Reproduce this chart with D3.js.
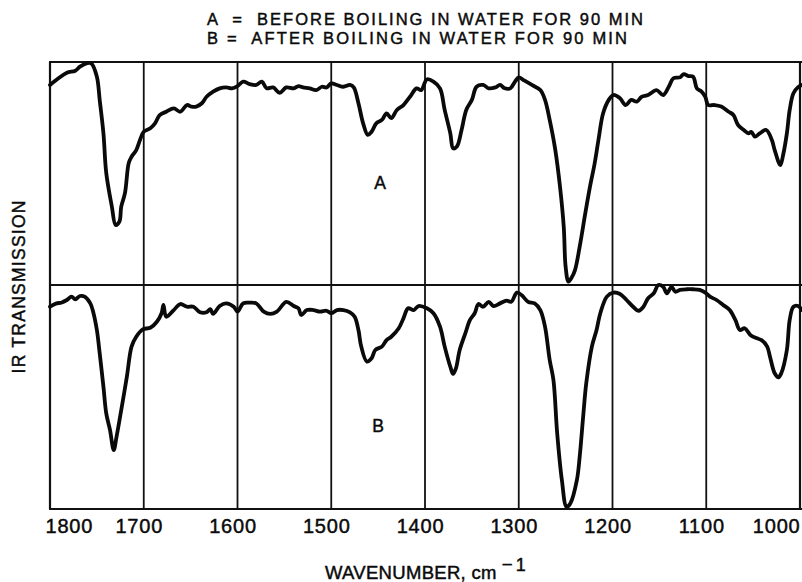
<!DOCTYPE html>
<html>
<head>
<meta charset="utf-8">
<script src="https://cdn.jsdelivr.net/npm/d3@7/dist/d3.min.js"></script>
<style>
  html, body { margin: 0; padding: 0; background: #fff; }
  svg { display: block; font-family: "Liberation Sans", Arial, Helvetica, sans-serif; }
  text { fill: #0a0a0a; stroke: #0a0a0a; stroke-width: 0.45px; }
</style>
</head>
<body>
<svg id="chart" width="802" height="582"></svg>
<script>
// Wavenumber gridlines (cm^-1) and tick labels
const gridWavenumbers = [1800, 1700, 1600, 1500, 1400, 1300, 1200, 1100, 1000];
const tickLabels = ["1800", "1700", "1600", "1500", "1400", "1300", "1200", "1100", "1000"];

// Spectrum A: before boiling — wavenumber (cm^-1) and relative transmission (0–100)
const wavenumberA = [1800,1791,1782,1773,1768,1761,1756,1750,1747,1743,1740,1734,1730,1726,1724,1720,1716,1713,1708,1704,
  1700,1693,1688,1683,1676,1668,1661,1654,1649,1644,1638,1633,1626,1619,1612,1606,1600,1594,1587,1580,
  1574,1569,1562,1555,1548,1540,1535,1530,1523,1516,1510,1505,1500,1494,1487,1480,1476,1471,1466,1461,
  1457,1452,1446,1441,1436,1430,1423,1416,1409,1404,1398,1391,1384,1379,1373,1370,1366,1361,1356,1350,
  1345,1338,1332,1325,1320,1315,1309,1304,1300,1295,1286,1277,1272,1267,1261,1256,1252,1250,1247,1244,
  1240,1235,1229,1224,1219,1215,1210,1204,1199,1192,1186,1180,1174,1169,1162,1153,1146,1140,1135,1128,
  1124,1119,1114,1110,1105,1101,1098,1091,1084,1076,1071,1066,1060,1055,1052,1048,1043,1036,1030,1027,
  1021,1018,1014,1011,1007,1002,998];
const transmissionA = [89.7,92.7,95.2,96.1,97.9,99.4,99.4,93.4,83.0,68.0,50.2,35.1,26.9,28.4,35.1,41.3,54.7,57.5,60.5,65.0,
  68.7,70.3,72.5,76.2,77.7,79.2,77.7,80.7,80.0,80.0,81.5,84.4,86.7,88.2,88.6,88.2,89.2,91.2,90.1,89.7,
  91.2,88.2,88.6,86.2,88.6,88.2,89.2,88.6,88.2,87.4,88.9,88.6,90.4,89.7,88.9,89.7,88.6,81.5,72.5,67.3,
  68.7,72.5,74.0,77.0,74.8,78.5,80.7,84.4,88.2,87.4,92.2,91.2,88.2,78.5,68.0,61.3,62.1,69.5,78.5,83.0,
  88.9,89.7,88.2,88.6,89.7,88.2,88.2,91.2,93.1,91.9,89.7,87.4,83.0,74.0,60.5,44.1,26.1,8.2,1.5,3.0,
  6.7,17.2,32.2,44.1,54.6,65.0,77.0,83.0,85.2,83.7,80.7,83.0,82.2,84.4,85.2,87.4,85.2,88.9,92.7,93.1,
  94.6,93.7,93.4,88.2,86.7,84.4,80.7,80.7,80.0,77.7,76.2,71.7,69.5,68.0,68.7,66.5,68.0,69.5,65.0,60.5,
  53.8,58.3,68.0,78.5,86.0,88.7,89.7];

// Spectrum B: after boiling — wavenumber (cm^-1) and relative transmission (0–100)
const wavenumberB = [1800,1793,1788,1782,1777,1773,1768,1763,1757,1754,1750,1747,1743,1740,1736,1732,1729,1724,1718,1713,
  1708,1701,1693,1686,1681,1679,1676,1668,1661,1654,1647,1640,1633,1629,1626,1619,1612,1604,1600,1594,
  1587,1580,1572,1565,1558,1548,1540,1535,1532,1526,1519,1512,1505,1500,1494,1487,1480,1475,1471,1468,
  1462,1457,1453,1446,1441,1436,1428,1423,1418,1412,1407,1398,1391,1384,1379,1373,1370,1367,1363,1357,
  1352,1347,1343,1338,1332,1327,1320,1313,1308,1302,1297,1290,1283,1277,1272,1267,1263,1259,1254,1249,
  1245,1238,1235,1231,1228,1222,1217,1213,1206,1199,1192,1185,1178,1172,1167,1162,1156,1151,1146,1142,
  1137,1133,1128,1121,1114,1107,1101,1096,1089,1082,1075,1069,1064,1059,1053,1046,1041,1035,1032,1027,
  1023,1020,1014,1011,1007,1002,998];
const transmissionB = [90.3,91.8,92.1,93.3,94.8,93.6,95.1,94.8,91.8,88.1,79.9,69.5,54.6,42.7,35.3,26.3,32.3,44.2,59.1,72.5,
  76.9,80.2,80.9,83.6,87.4,91.1,85.8,88.8,91.5,90.3,90.3,87.8,87.8,89.2,87.1,90.6,91.8,90.3,88.1,91.8,
  92.1,91.8,88.1,87.1,88.1,92.5,90.6,89.6,86.6,88.8,88.8,88.1,88.5,87.4,88.8,88.8,87.8,85.8,79.9,72.5,
  65.8,67.3,71.0,72.5,75.4,76.9,80.7,85.1,89.6,88.8,90.6,89.6,87.4,81.4,72.5,63.5,60.3,62.8,71.0,78.4,
  84.4,87.4,91.5,90.3,92.5,90.6,91.8,93.0,92.5,96.6,95.5,92.5,91.8,88.8,81.4,66.5,57.6,33.8,12.9,1.0,
  2.5,12.9,23.3,42.7,56.1,72.5,79.9,87.4,94.8,96.6,96.0,93.3,90.3,88.5,90.3,94.1,96.3,100,99.2,96.3,
  99.2,97.0,97.8,98.1,98.1,97.8,96.6,94.8,93.3,91.1,88.8,84.4,79.9,80.7,77.7,76.2,75.4,72.5,68.0,60.6,
  58.8,60.6,71.0,84.4,90.3,90.6,88.8];

const titleLines = ["A  =  BEFORE BOILING IN WATER FOR 90 MIN", "B =  AFTER BOILING IN WATER FOR 90 MIN"];
const yAxisTitle = "IR TRANSMISSION";
const xAxisTitle = "WAVENUMBER, cm";
const panelLabels = ["A", "B"];

const svg = d3.select("#chart");
const plotLeft = 50, plotRight = 800, plotTop = 62, plotMid = 285, plotBottom = 509;

const x = d3.scaleLinear().domain([1800, 1000]).range([plotLeft, plotRight]);
const yA = d3.scaleLinear().domain([0, 100]).range([plotMid, plotTop]);
const yB = d3.scaleLinear().domain([0, 100]).range([plotBottom, plotMid]);

// Vertical gridlines
svg.append("g")
  .selectAll("line")
  .data(gridWavenumbers)
  .join("line")
  .attr("x1", d => x(d)).attr("x2", d => x(d))
  .attr("y1", plotTop).attr("y2", plotBottom)
  .attr("stroke", "#111")
  .attr("stroke-width", d => (d === 1800 || d === 1000) ? 2.2 : 1.8);

// Horizontal frame lines: top, divider, bottom
svg.append("g")
  .selectAll("line")
  .data([plotTop, plotMid, plotBottom])
  .join("line")
  .attr("x1", plotLeft - 1).attr("x2", plotRight + 2)
  .attr("y1", d => d).attr("y2", d => d)
  .attr("stroke", "#111")
  .attr("stroke-width", 2.2);

// Spectra
const lineA = d3.line()
  .x((d, i) => x(wavenumberA[i]))
  .y(d => yA(d))
  .curve(d3.curveCatmullRom.alpha(0.5));
const lineB = d3.line()
  .x((d, i) => x(wavenumberB[i]))
  .y(d => yB(d))
  .curve(d3.curveCatmullRom.alpha(0.5));

svg.append("path")
  .datum(transmissionA)
  .attr("d", lineA)
  .attr("fill", "none")
  .attr("stroke", "#0a0a0a")
  .attr("stroke-width", 3.8)
  .attr("stroke-linejoin", "round")
  .attr("stroke-linecap", "round");

svg.append("path")
  .datum(transmissionB)
  .attr("d", lineB)
  .attr("fill", "none")
  .attr("stroke", "#0a0a0a")
  .attr("stroke-width", 3.8)
  .attr("stroke-linejoin", "round")
  .attr("stroke-linecap", "round");

// Bottom axis labels
const xAxis = d3.axisBottom(x)
  .tickValues(gridWavenumbers)
  .tickFormat((d, i) => tickLabels[i])
  .tickSize(0)
  .tickPadding(0);

const axisG = svg.append("g")
  .attr("transform", `translate(0,${plotBottom})`)
  .call(xAxis);
axisG.select(".domain").remove();
axisG.selectAll("text")
  .attr("font-family", "Liberation Sans, Arial, sans-serif")
  .attr("font-size", 20)
  .attr("letter-spacing", 0.8)
  .attr("dy", null)
  .attr("y", 24)
  .attr("dx", -5)
  .attr("text-anchor", (d, i) => i === 0 ? "start" : (i === gridWavenumbers.length - 1 ? "end" : "middle"))
  .attr("x", (d, i) => i === 0 ? 0 : (i === gridWavenumbers.length - 1 ? 5 : 0));

// Two-line title block
const title = svg.append("text")
  .attr("font-size", 16.5)
  .style("white-space", "pre");
title.selectAll("tspan")
  .data(titleLines)
  .join("tspan")
  .attr("x", 207)
  .attr("y", (d, i) => 24.5 + i * 19)
  .attr("textLength", (d, i) => i === 0 ? 436 : 420)
  .attr("lengthAdjust", "spacing")
  .text(d => d);

// Y axis title
svg.append("text")
  .attr("transform", "translate(24.5,287) rotate(-90)")
  .attr("text-anchor", "middle")
  .attr("font-size", 17.5)
  .attr("textLength", 173)
  .attr("lengthAdjust", "spacing")
  .text(yAxisTitle);

// X axis title with superscript
const xt = svg.append("text")
  .attr("x", 325)
  .attr("y", 579)
  .attr("font-size", 18.5)
  .attr("letter-spacing", 0.3);
xt.append("tspan").text(xAxisTitle);
xt.append("tspan").attr("dx", 5).attr("dy", -8).text("\u2212");
xt.append("tspan").attr("dx", 3).attr("font-size", 18).text("1");

// Panel labels
svg.append("g")
  .selectAll("text")
  .data(panelLabels)
  .join("text")
  .attr("x", (d, i) => i === 0 ? 380 : 378)
  .attr("y", (d, i) => i === 0 ? 189 : 432)
  .attr("text-anchor", "middle")
  .attr("font-size", 17.5)
  .text(d => d);
</script>
</body>
</html>
